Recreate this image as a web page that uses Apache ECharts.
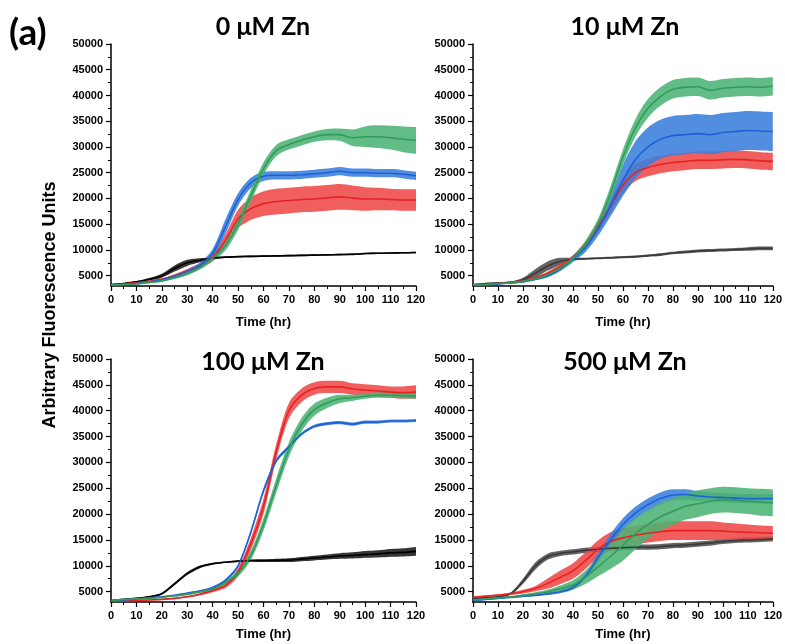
<!DOCTYPE html>
<html>
<head>
<meta charset="utf-8">
<script src="https://cdn.jsdelivr.net/npm/echarts@6/dist/echarts.min.js"></script>
<style>
    html, body {margin: 0; padding: 0; background: #fff;}
    #chart {width: 785px; height: 644px;}
</style>
</head>
<body>
<div id="chart"></div>
<script>
// time points (hr)
const hours = [0, 5, 10, 15, 20, 25, 30, 35, 40, 45, 50, 55, 60, 65, 70, 75, 80, 85, 90, 95, 100, 105, 110, 115, 120];
const panelTitles = ['0 μM Zn', '10 μM Zn', '100 μM Zn', '500 μM Zn'];
const yTickValues = [5000, 10000, 15000, 20000, 25000, 30000, 35000, 40000, 45000, 50000];
const yMinorValues = [7500, 12500, 17500, 22500, 27500, 32500, 37500, 42500, 47500];

// 0 uM Zn
const zn0Black = [3300, 3500, 3800, 4300, 5000, 6400, 7500, 8000, 8400, 8600, 8700, 8750, 8800, 8850, 8900, 8950, 9000, 9050, 9100, 9150, 9300, 9350, 9400, 9450, 9500];
const zn0BlackErr = [100, 100, 150, 250, 400, 600, 600, 400, 200, 150, 150, 150, 150, 150, 150, 150, 150, 150, 150, 150, 150, 150, 150, 150, 150];
const zn0Red = [3200, 3400, 3600, 3900, 4300, 5000, 5900, 7000, 8600, 11800, 16000, 18000, 19000, 19400, 19600, 19800, 19900, 20100, 20300, 20100, 19900, 19900, 19800, 19700, 19700];
const zn0RedErr = [100, 100, 100, 150, 200, 300, 400, 500, 800, 1200, 1800, 2200, 2400, 2500, 2500, 2500, 2500, 2500, 2500, 2400, 2300, 2200, 2100, 2100, 2100];
const zn0Blue = [3200, 3300, 3500, 3800, 4200, 4900, 5800, 7000, 9300, 14500, 19800, 23000, 24300, 24500, 24500, 24600, 24800, 25000, 25300, 25000, 25000, 24900, 24900, 24700, 24400];
const zn0BlueErr = [100, 100, 100, 150, 200, 250, 300, 500, 900, 1400, 1200, 1000, 900, 800, 800, 800, 800, 800, 800, 800, 800, 800, 800, 800, 800];
const zn0Green = [3200, 3300, 3400, 3700, 4000, 4600, 5400, 6600, 8400, 10800, 15000, 20500, 25800, 29300, 30500, 31300, 32000, 32400, 32400, 31800, 32000, 32000, 31800, 31500, 31300];
const zn0GreenErr = [100, 100, 100, 150, 200, 250, 300, 400, 600, 900, 1100, 1200, 1200, 1100, 1000, 1000, 1000, 1100, 1200, 1600, 2000, 2200, 2300, 2500, 2600];

// 10 uM Zn
const zn10Black = [3300, 3500, 3600, 3700, 4200, 5500, 6900, 7800, 8200, 8300, 8400, 8500, 8600, 8700, 8900, 9100, 9400, 9600, 9800, 9900, 10000, 10100, 10200, 10300, 10300];
const zn10BlackErr = [100, 100, 100, 150, 400, 800, 900, 700, 300, 200, 200, 200, 200, 200, 200, 250, 250, 300, 300, 300, 300, 300, 350, 350, 350];
const zn10Red = [3200, 3300, 3500, 3700, 4000, 4600, 5500, 6800, 8500, 11000, 14500, 18500, 22500, 25000, 26000, 26600, 27000, 27200, 27400, 27400, 27500, 27600, 27500, 27300, 27200];
const zn10RedErr = [100, 100, 100, 100, 150, 200, 300, 400, 500, 700, 1000, 1300, 1500, 1600, 1700, 1700, 1700, 1700, 1700, 1700, 1700, 1700, 1700, 1700, 1700];
const zn10Blue = [3100, 3200, 3400, 3600, 3800, 4300, 5000, 6300, 8200, 10500, 14000, 18500, 23500, 27500, 30000, 31500, 32200, 32400, 32600, 32400, 32800, 33000, 33200, 33100, 33000];
const zn10BlueErr = [100, 100, 100, 100, 150, 200, 300, 400, 600, 900, 1300, 2000, 3000, 3600, 3800, 3800, 3800, 3800, 3800, 3800, 3800, 3800, 3800, 3800, 3800];
const zn10Green = [3200, 3300, 3500, 3600, 3900, 4400, 5200, 6500, 8300, 11000, 15000, 21000, 28000, 33700, 37500, 39800, 41200, 41600, 41700, 41000, 41400, 41600, 41700, 41600, 41800];
const zn10GreenErr = [100, 100, 100, 100, 150, 200, 300, 400, 500, 800, 1000, 1300, 1500, 1700, 1800, 1800, 1800, 1800, 1800, 1800, 1800, 1800, 1800, 1800, 1800];

// 100 uM Zn
const zn100Black = [3300, 3500, 3700, 4000, 4600, 6500, 8500, 9800, 10400, 10700, 10900, 11000, 11000, 11050, 11100, 11300, 11500, 11700, 11900, 12000, 12200, 12300, 12500, 12600, 12800];
const zn100BlackErr = [100, 100, 100, 150, 200, 250, 300, 250, 200, 150, 150, 200, 250, 300, 350, 400, 450, 500, 550, 600, 650, 700, 750, 800, 850];
const zn100Red = [3100, 3200, 3300, 3400, 3500, 3700, 4000, 4500, 5200, 6200, 8800, 14200, 21500, 32000, 40000, 43000, 44300, 44600, 44600, 44200, 44000, 43800, 43600, 43500, 43600];
const zn100RedErr = [100, 100, 100, 100, 100, 100, 150, 200, 300, 500, 800, 1200, 1500, 1500, 1500, 1300, 1200, 1200, 1200, 1100, 1100, 1100, 1100, 1200, 1300];
const zn100Blue = [3200, 3400, 3600, 3800, 4000, 4300, 4700, 5100, 5800, 7200, 10000, 16500, 24500, 30300, 33000, 35500, 37000, 37500, 37700, 37400, 37800, 37800, 38000, 38000, 38100];
const zn100BlueErr = [100, 100, 100, 100, 100, 100, 150, 150, 200, 250, 300, 400, 500, 400, 300, 300, 300, 300, 300, 300, 300, 300, 300, 300, 300];
const zn100Green = [3300, 3500, 3600, 3700, 3900, 4200, 4500, 5000, 5500, 6800, 8500, 12000, 18000, 25500, 32500, 37300, 40200, 41500, 42300, 42500, 42800, 43000, 43000, 42900, 42800];
const zn100GreenErr = [100, 100, 100, 100, 100, 150, 200, 250, 300, 400, 600, 900, 1200, 1400, 1400, 1300, 1200, 1000, 800, 600, 500, 500, 500, 500, 500];

// 500 uM Zn
const zn500Black = [3600, 3800, 4000, 4600, 7000, 10000, 11800, 12400, 12700, 13000, 13200, 13400, 13500, 13600, 13600, 13700, 13900, 14000, 14200, 14400, 14700, 14900, 15000, 15100, 15200];
const zn500BlackErr = [150, 150, 150, 200, 500, 700, 600, 500, 500, 500, 500, 500, 500, 500, 500, 500, 500, 500, 500, 500, 500, 500, 500, 500, 500];
const zn500Red = [3900, 4100, 4300, 4600, 5000, 5600, 6600, 7800, 9000, 11000, 13200, 14700, 15400, 15900, 16300, 16600, 16800, 16800, 16800, 16800, 16700, 16600, 16500, 16400, 16300];
const zn500RedErr = [200, 200, 200, 250, 350, 500, 1000, 1300, 1500, 1600, 1700, 1800, 1800, 1800, 1800, 1800, 1800, 1800, 1800, 1800, 1700, 1600, 1500, 1400, 1400];
const zn500Blue = [3300, 3500, 3700, 3900, 4100, 4300, 4600, 5000, 5800, 8000, 11500, 15000, 18000, 20200, 21800, 23000, 23700, 23800, 23500, 23300, 23200, 23100, 23000, 23000, 23000];
const zn500BlueErr = [100, 100, 100, 100, 150, 200, 250, 300, 400, 600, 900, 1100, 1200, 1200, 1200, 1200, 1100, 1000, 900, 900, 900, 900, 900, 900, 900];
const zn500Green = [3400, 3600, 3800, 4000, 4300, 4600, 5000, 5600, 6300, 7800, 9800, 11800, 14000, 16200, 18000, 19500, 20500, 21500, 22000, 22500, 22800, 22700, 22500, 22300, 22200];
const zn500GreenErr = [100, 100, 100, 150, 200, 300, 400, 600, 900, 1300, 1800, 2400, 3000, 3000, 2800, 2700, 2600, 2600, 2600, 2500, 2500, 2500, 2500, 2600, 2600];

// colours: [line, band]
const blackColors = ['#000000', '#1a1a1a'];
const greyColors = ['#3a3a3a', '#4e4e4e'];
const redColors = ['#e62222', '#ef4848'];
const blueColors = ['#1c62d4', '#3a7edc'];
const greenColors = ['#329b5c', '#4cb374'];

const panels = [
    {left: 111, top: 44, height: 242, black: blackColors, nameGap: 30,
        data: [[zn0Black, zn0BlackErr], [zn0Red, zn0RedErr], [zn0Blue, zn0BlueErr], [zn0Green, zn0GreenErr]]},
    {left: 473, top: 44, height: 242, black: greyColors, nameGap: 30,
        data: [[zn10Black, zn10BlackErr], [zn10Red, zn10RedErr], [zn10Blue, zn10BlueErr], [zn10Green, zn10GreenErr]]},
    {left: 111, top: 359, height: 243, black: blackColors, nameGap: 26,
        data: [[zn100Black, zn100BlackErr], [zn100Red, zn100RedErr], [zn100Blue, zn100BlueErr], [zn100Green, zn100GreenErr]]},
    {left: 473, top: 359, height: 243, black: greyColors, nameGap: 26,
        data: [[zn500Black, zn500BlackErr], [zn500Red, zn500RedErr], [zn500Blue, zn500BlueErr], [zn500Green, zn500GreenErr]]}
];

const tickFont = {color: '#000', fontSize: 11, fontWeight: 'bold', fontFamily: '"Liberation Sans", Arial, sans-serif'};

let grids = [], xAxes = [], yAxes = [], series = [], graphics = [];

panels.forEach((p, i) => {
    grids.push({left: p.left, top: p.top, width: 305, height: p.height});

    xAxes.push({
        type: 'value', gridIndex: i, min: 0, max: 120, interval: 10,
        name: 'Time (hr)', nameLocation: 'middle', nameGap: p.nameGap,
        nameTextStyle: {color: '#000', fontSize: 13, fontWeight: 'bold', fontFamily: '"Liberation Sans", Arial, sans-serif'},
        axisLine: {onZero: false, lineStyle: {color: '#000', width: 1.5}},
        axisTick: {length: 5, lineStyle: {color: '#000', width: 1.2}},
        minorTick: {show: true, splitNumber: 2, length: 3, lineStyle: {color: '#000', width: 1}},
        axisLabel: Object.assign({margin: 8}, tickFont),
        splitLine: {show: false}
    });

    // main y axis
    yAxes.push({
        type: 'value', gridIndex: i, min: 3000, max: 50000,
        axisLine: {show: true, onZero: false, lineStyle: {color: '#000', width: 1.5}},
        axisTick: {show: true, length: 5, customValues: yTickValues, lineStyle: {color: '#000', width: 1.2}},
        axisLabel: Object.assign({margin: 8, customValues: yTickValues, formatter: v => String(v)}, tickFont),
        splitLine: {show: false}
    });
    // minor ticks on y
    yAxes.push({
        type: 'value', gridIndex: i, min: 3000, max: 50000, position: 'left',
        axisLine: {show: false},
        axisTick: {show: true, length: 3, customValues: yMinorValues, lineStyle: {color: '#000', width: 1}},
        axisLabel: {show: false, customValues: yMinorValues},
        splitLine: {show: false}
    });

    const colorSets = [p.black, redColors, blueColors, greenColors];
    p.data.forEach((d, k) => {
        const mean = d[0], err = d[1];
        // value first, hour second so that stacking happens on the y values
        const lower = hours.map((h, j) => [mean[j] - err[j], h]);
        const band = hours.map((h, j) => [2 * err[j], h]);
        const line = hours.map((h, j) => [mean[j], h]);
        const stackName = 'p' + i + 's' + k;
        const common = {
            type: 'line', xAxisIndex: i, yAxisIndex: i * 2, symbol: 'none', smooth: 0.3, silent: true,
            encode: {x: 1, y: 0}
        };
        series.push(Object.assign({}, common, {
            data: lower, stack: stackName, lineStyle: {opacity: 0}
        }));
        series.push(Object.assign({}, common, {
            data: band, stack: stackName, lineStyle: {opacity: 0},
            areaStyle: {color: colorSets[k][1], opacity: 0.88}
        }));
        series.push(Object.assign({}, common, {
            data: line, lineStyle: {color: colorSets[k][0], width: 1.6}
        }));
    });

    graphics.push({
        type: 'text', x: p.left + 152, y: i < 2 ? 27 : 362,
        style: {text: panelTitles[i], fill: '#000', font: 'bold 25px Lato, "Open Sans", sans-serif',
            align: 'center', verticalAlign: 'middle'}
    });
});

graphics.push({
    type: 'text', x: 9, y: 33,
    style: {text: '(a)', fill: '#000', font: 'bold 37px Lato, "Open Sans", sans-serif',
        align: 'left', verticalAlign: 'middle'}
});
graphics.push({
    type: 'text', x: 50, y: 305, rotation: Math.PI / 2,
    style: {text: 'Arbitrary Fluorescence Units', fill: '#000',
        font: 'bold 18px "Liberation Sans", Arial, sans-serif', align: 'center', verticalAlign: 'middle'}
});

let myChart = echarts.init(document.getElementById('chart'));

let option = {
    animation: false,
    backgroundColor: '#fff',
    grid: grids,
    xAxis: xAxes,
    yAxis: yAxes,
    series: series,
    graphic: graphics
};

myChart.setOption(option);
</script>
</body>
</html>
